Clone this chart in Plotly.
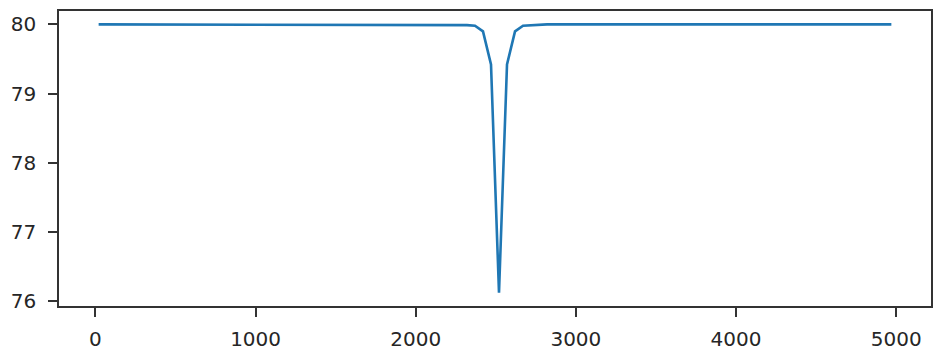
import plotly.graph_objects as go

# x sample positions (regular grid, step 50)
x_vals = list(range(20, 5000, 50))

# y values: flat at 80 with a sharp dip near x=2520
y_left = [80.0] * 46
y_dip = [79.99, 79.98, 79.90, 79.42, 76.12, 79.42, 79.90, 79.98, 79.99]
y_right = [80.0] * (len(x_vals) - len(y_left) - len(y_dip))
y_vals = y_left + y_dip + y_right

x_ticks = [0, 1000, 2000, 3000, 4000, 5000]
y_ticks = [76, 77, 78, 79, 80]

fig = go.Figure()
fig.add_trace(go.Scatter(x=x_vals, y=y_vals, mode="lines",
                         line=dict(color="#1f77b4", width=2.6)))

axis_common = dict(showgrid=False, zeroline=False, showline=True, mirror=True,
                   linecolor="#333333", linewidth=1.6, ticks="outside",
                   ticklen=9, tickwidth=1.6, tickcolor="#333333",
                   tickfont=dict(family="DejaVu Sans", size=20, color="#262626"))

xmin, xmax = min(x_vals), max(x_vals)
xr = xmax - xmin
ymin, ymax = min(y_vals), max(y_vals)
yr = ymax - ymin

fig.update_xaxes(range=[xmin - 0.05 * xr, xmax + 0.05 * xr], tickvals=x_ticks,
                 ticklabelstandoff=5, **axis_common)
fig.update_yaxes(range=[ymin - 0.05 * yr, ymax + 0.05 * yr], tickvals=y_ticks,
                 ticklabelstandoff=8, **axis_common)

fig.update_layout(width=935, height=353, margin=dict(l=59, r=2, t=11, b=45),
                  plot_bgcolor="white", paper_bgcolor="white", showlegend=False)

fig.write_html("out.html")
